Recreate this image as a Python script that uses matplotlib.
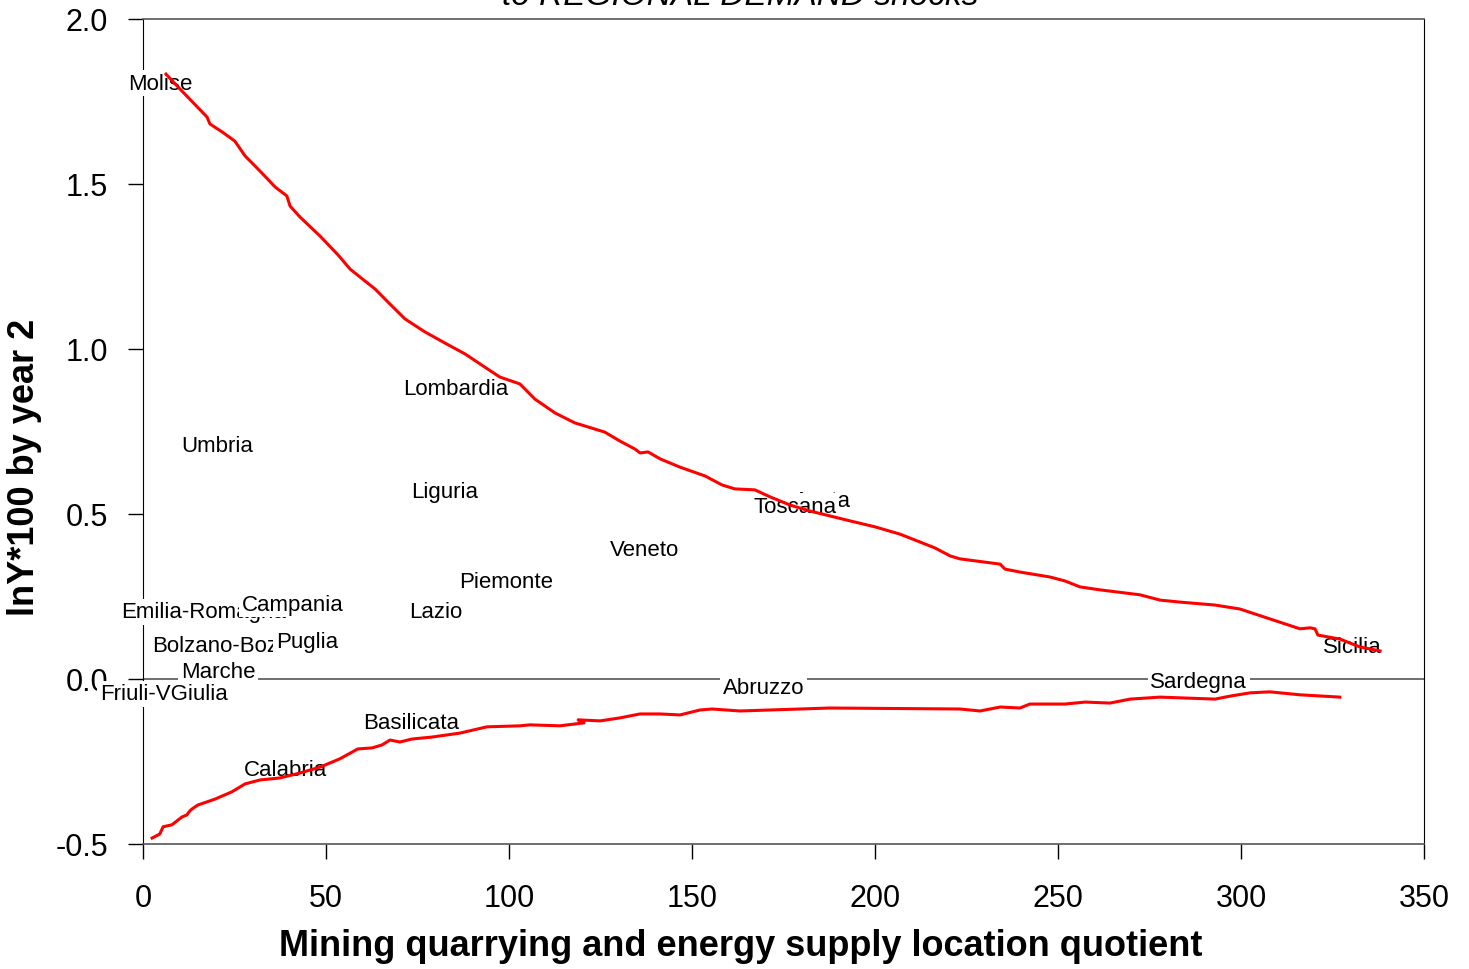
import matplotlib
matplotlib.use("Agg")
import matplotlib.pyplot as plt

plt.rcParams['font.family'] = ['Liberation Sans', 'DejaVu Sans']

# region labels placed at (location quotient, lnY*100 by year 2)
regions = ['Molise', 'Lombardia', 'Umbria', 'Liguria', 'Veneto', 'Piemonte',
           'Lazio', 'Emilia-Romagna', 'Campania', 'Bolzano-Bozen', 'Puglia',
           'Marche', 'Friuli-VGiulia', 'Aosta', 'Toscana', 'Abruzzo',
           'Sardegna', 'Sicilia', 'Basilicata', 'Calabria']
lq = [4.8, 85.4, 20.4, 82.4, 136.9, 99.3,
      79.9, 16.7, 40.8, 23.0, 44.8,
      20.5, 5.7, 185.7, 178.1, 169.5,
      288.4, 330.3, 73.4, 38.9]
resp = [1.806, 0.879, 0.709, 0.567, 0.391, 0.294,
        0.203, 0.203, 0.227, 0.100, 0.115,
        0.024, -0.045, 0.540, 0.524, -0.027,
        -0.009, 0.097, -0.133, -0.273]

# smoothed fit, positive responses
fit_up_x = [6.3, 10.1, 17.5, 18.3, 21.6, 25.1, 27.9, 32.0, 36.1, 39.3, 40.2,
            42.9, 48.4, 53.3, 56.6, 59.3, 63.4, 67.5, 71.6, 77.0, 82.5, 88.0,
            93.4, 97.5, 103.0, 107.1, 112.6, 118.0, 126.2, 130.3, 134.4, 135.8,
            138.0, 141.3, 146.7, 153.6, 158.2, 161.7, 167.2, 171.3, 176.8,
            182.2, 187.7, 193.2, 200.0, 206.8, 212.3, 216.4, 220.5, 223.2,
            234.2, 235.5, 239.6, 247.8, 251.9, 256.0, 261.5, 272.4, 277.9,
            283.3, 292.9, 299.7, 307.9, 316.1, 318.9, 320.2, 321.0, 327.0,
            332.5, 338.0]
fit_up_y = [1.833, 1.788, 1.703, 1.682, 1.658, 1.630, 1.585, 1.539, 1.491,
            1.464, 1.433, 1.400, 1.342, 1.285, 1.242, 1.218, 1.182, 1.136,
            1.091, 1.052, 1.018, 0.985, 0.945, 0.915, 0.894, 0.848, 0.806,
            0.776, 0.748, 0.721, 0.697, 0.685, 0.688, 0.667, 0.642, 0.615,
            0.588, 0.576, 0.573, 0.552, 0.527, 0.509, 0.494, 0.479, 0.461,
            0.439, 0.415, 0.397, 0.373, 0.364, 0.348, 0.333, 0.324, 0.309,
            0.297, 0.279, 0.270, 0.255, 0.239, 0.233, 0.224, 0.212, 0.182,
            0.152, 0.155, 0.152, 0.133, 0.121, 0.097, 0.085]

# smoothed fit, negative responses
fit_dn_x = [2.5, 4.6, 5.5, 7.9, 10.7, 12.0, 12.8, 13.4, 15.0, 19.7, 24.3,
            27.9, 32.0, 37.4, 42.9, 48.4, 53.8, 58.7, 62.6, 65.3, 67.5, 70.2,
            73.5, 79.0, 86.6, 94.0, 103.0, 105.7, 113.9, 120.5, 118.9, 124.9,
            130.3, 135.8, 141.3, 146.7, 152.2, 155.5, 163.1, 179.5, 187.7,
            223.2, 228.7, 234.2, 239.6, 242.3, 247.8, 251.9, 257.4, 264.2,
            269.7, 277.9, 292.9, 297.0, 302.5, 307.9, 316.1, 327.0]
fit_dn_y = [-0.482, -0.470, -0.448, -0.442, -0.418, -0.412, -0.400, -0.394,
            -0.382, -0.364, -0.342, -0.318, -0.306, -0.300, -0.285, -0.267,
            -0.242, -0.212, -0.209, -0.200, -0.185, -0.191, -0.182, -0.176,
            -0.164, -0.145, -0.142, -0.139, -0.142, -0.133, -0.124, -0.127,
            -0.118, -0.106, -0.106, -0.109, -0.094, -0.091, -0.097, -0.091,
            -0.088, -0.091, -0.097, -0.085, -0.088, -0.076, -0.076, -0.076,
            -0.070, -0.073, -0.061, -0.055, -0.061, -0.052, -0.042, -0.039,
            -0.048, -0.055]

xticks = [0, 50, 100, 150, 200, 250, 300, 350]
yticks = [-0.5, 0.0, 0.5, 1.0, 1.5, 2.0]

fig = plt.figure(figsize=(14.69, 9.70), dpi=100)
ax = fig.add_axes([0.0973, 0.1289, 0.8721, 0.8505])
ax.set_xlim(0, 350)
ax.set_ylim(-0.5, 2.0)

ax.axhline(0, color='#555555', lw=1.2, zorder=1)

for name, x, y in zip(regions, lq, resp):
    ax.text(x, y, name, fontsize=16, ha='center', va='center', zorder=3,
            bbox=dict(boxstyle='square,pad=0.12', fc='white', ec='none'))

ax.plot(fit_up_x, fit_up_y, color='red', lw=2.2, zorder=4)
ax.plot(fit_dn_x, fit_dn_y, color='red', lw=2.2, zorder=4)

ax.set_xticks(xticks)
ax.set_yticks(yticks)
ax.set_xticklabels([str(t) for t in xticks])
ax.set_yticklabels(['%.1f' % t for t in yticks])
ax.tick_params(axis='both', direction='out', length=11, width=1,
               labelsize=22, color='black')
ax.tick_params(axis='y', pad=14)
ax.tick_params(axis='x', pad=17)

for side in ['top', 'bottom']:
    ax.spines[side].set_color('#555555')
    ax.spines[side].set_linewidth(1.2)
ax.spines['left'].set_color('black')
ax.spines['right'].set_color('black')

fig.text(0.504, 0.0245, 'Mining quarrying and energy supply location quotient',
         fontsize=26, fontweight='bold', ha='center', va='center')
fig.text(0.017, 0.518, 'lnY*100 by year 2', fontsize=26, fontweight='bold',
         rotation=90, ha='center', va='center')
fig.text(0.504, 0.9948, 'to REGIONAL DEMAND shocks', fontsize=24,
         style='italic', ha='center', va='baseline')

fig.savefig('out.png', dpi=100)
